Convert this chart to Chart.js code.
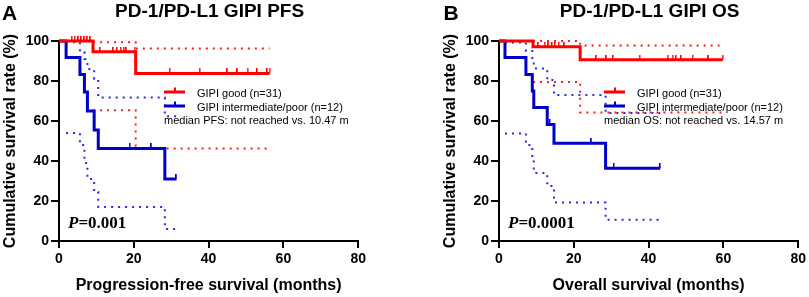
<!DOCTYPE html>
<html>
<head>
<meta charset="utf-8">
<script src="https://cdn.jsdelivr.net/npm/chart.js@4.4.0/dist/chart.umd.min.js"></script>
<style>
  html, body { margin: 0; padding: 0; background: #fff; overflow: hidden; }
  #wrap { position: relative; width: 809px; height: 297px; }
  canvas { position: absolute; top: 0; }
  #pfsChart { left: 0; }
  #osChart { left: 440px; }
</style>
</head>
<body>
<div id="wrap">
  <canvas id="pfsChart" width="369" height="297"></canvas>
  <canvas id="osChart" width="369" height="297"></canvas>
</div>
<script>
const xTicks = [0, 20, 40, 60, 80];
const yTicks = [0, 20, 40, 60, 80, 100];

// PFS - GIPI good (n=31); CI arrays line up with the event times after 0
const pfsGoodTime = [0, 9.1, 20.5, 56.3];
const pfsGoodSurv = [100, 94.6, 83.8, 83.8];
const pfsGoodUpper = [99.4, 96.3, 96.3];
const pfsGoodLower = [65.4, 46.2, 46.2];
const pfsGoodCensored = [3.4, 4.2, 5.2, 6.0, 6.8, 7.6, 8.4, 11, 14.5, 15.5, 16.5, 17.3, 18, 20.2, 29.6, 37.6, 45, 47.7, 50.4, 53, 55.7, 56.3];

// PFS - GIPI intermediate/poor (n=12)
const pfsPoorTime = [0, 1.9, 5.6, 6.8, 7.6, 9.4, 10.5, 28.3, 31.4];
const pfsPoorSurv = [100, 91.7, 83.3, 74.5, 65, 55.5, 46.3, 31, 31];
const pfsPoorUpper = [99.4, 94.5, 91, 86, 81, 71.7, 62.4, 62.4];
const pfsPoorLower = [54, 48, 39, 31, 24.5, 17, 6, 6];
const pfsPoorCensored = [18.9, 24.7, 31.4];

// OS - GIPI good (n=31)
const osGoodTime = [0, 9.1, 21.7, 59.8];
const osGoodSurv = [100, 97.1, 90.6, 90.6];
const osGoodUpper = [100, 97.8, 97.8];
const osGoodLower = [79.5, 64.2, 64.2];
const osGoodCensored = [10.5, 12.2, 13.2, 14.2, 15, 16, 17.5, 26, 28.7, 30.5, 37.6, 45.1, 46.4, 47.3, 48.7, 51.8, 56, 59.8];

// OS - GIPI intermediate/poor (n=12)
const osPoorTime = [0, 1.6, 7.2, 8.9, 9.3, 12.9, 14.7, 28.5, 43.1];
const osPoorSurv = [100, 91.7, 83.3, 75, 66.7, 58.3, 48.9, 36.4, 36.4];
const osPoorUpper = [99.3, 95, 90.5, 86.3, 80.5, 73, 64, 64];
const osPoorLower = [53.8, 48, 41, 34, 27.5, 19.3, 10.6, 10.6];
const osPoorCensored = [13.6, 24.7, 30.7, 43.1];

const RED = '#ff0000', RED_CI = '#ff1a1a';
const BLUE = '#0000c8', BLUE_CI = '#2a2ae6';
const SANS = '"Liberation Sans", Arial, sans-serif';
const SERIF = '"Liberation Serif", "Times New Roman", serif';

function pts(xs, ys) {
  return xs.map((x, i) => ({ x, y: ys[i] }));
}

function stepAt(times, surv, t) {
  let s = surv[0];
  times.forEach((tt, i) => { if (tt <= t) s = surv[i]; });
  return s;
}

// small upward tick used as the censor mark
function tickMark(color) {
  const c = document.createElement('canvas');
  c.width = 2; c.height = 10;
  const g = c.getContext('2d');
  g.fillStyle = color;
  g.fillRect(0, 0, 1.5, 5);
  return c;
}

function kmSets(time, surv, upper, lower, cens, color, ciColor) {
  const ciTime = time.slice(1);
  return [
    { data: pts(time, surv), borderColor: color, borderWidth: 3, stepped: true, pointRadius: 0, clip: false },
    { type: 'scatter', data: cens.map(t => ({ x: t, y: stepAt(time, surv, t) })), pointStyle: tickMark(color), pointRadius: 3, clip: false },
    { data: pts(ciTime, upper), borderColor: ciColor, borderWidth: 2, borderDash: [2, 5], stepped: true, pointRadius: 0, clip: false, order: 2 },
    { data: pts(ciTime, lower), borderColor: ciColor, borderWidth: 2, borderDash: [2, 5], stepped: true, pointRadius: 0, clip: false, order: 2 }
  ];
}

const decor = {
  id: 'decor',
  afterDraw(chart, args, o) {
    const ctx = chart.ctx, a = chart.chartArea;
    ctx.save();
    ctx.fillStyle = '#000';
    ctx.textBaseline = 'alphabetic';
    ctx.textAlign = 'left';
    ctx.font = 'bold 21px ' + SANS;
    ctx.fillText(o.letter, o.letterX, 20);
    ctx.font = 'bold 19px ' + SANS;
    ctx.textAlign = 'center';
    ctx.fillText(o.title, (a.left + a.right) / 2 + 1, 17);

    // legend
    ctx.textAlign = 'left';
    ctx.font = '11px ' + SANS;
    [[RED, 'GIPI good (n=31)', 92], [BLUE, 'GIPI intermediate/poor (n=12)', 106]].forEach(([c, label, y]) => {
      ctx.strokeStyle = c;
      ctx.lineWidth = 3;
      ctx.beginPath();
      ctx.moveTo(a.left + 105, y);
      ctx.lineTo(a.left + 126, y);
      ctx.stroke();
      ctx.fillStyle = c;
      ctx.fillRect(a.left + 115, y - 4.5, 2, 4.5);
      ctx.fillStyle = '#000';
      ctx.fillText(label, a.left + 138, y + 4.5);
    });
    ctx.fillText(o.median, a.left + 105, 123.5);

    // P value
    ctx.font = 'italic bold 17px ' + SERIF;
    ctx.fillText('P', a.left + 9, 228);
    const w = ctx.measureText('P').width;
    ctx.font = 'bold 17px ' + SERIF;
    ctx.fillText(o.pval, a.left + 9 + w, 228);
    ctx.restore();
  }
};

function makeChart(id, sets, xTitle, decorOpts) {
  return new Chart(document.getElementById(id), {
    type: 'line',
    data: { datasets: sets },
    plugins: [decor],
    options: {
      responsive: false,
      animation: false,
      layout: { padding: { top: 41, left: 0, right: 10, bottom: 0 } },
      plugins: {
        legend: { display: false },
        tooltip: { enabled: false },
        decor: decorOpts
      },
      scales: {
        x: {
          type: 'linear', min: 0, max: 80,
          afterFit: s => { s.height = 56; },
          afterBuildTicks: s => { s.ticks = xTicks.map(v => ({ value: v })); },
          ticks: { color: '#000', font: { family: SANS, size: 14, weight: 'bold' }, padding: 3, maxRotation: 0 },
          grid: { drawOnChartArea: false, drawTicks: true, tickLength: 7, color: '#000', lineWidth: 2 },
          border: { display: true, color: '#000', width: 2 },
          title: { display: true, text: xTitle, color: '#000', font: { family: SANS, size: 16, weight: 'bold' }, padding: { top: 0, bottom: 2 } }
        },
        y: {
          type: 'linear', min: 0, max: 100,
          afterFit: s => { s.width = 59; },
          afterBuildTicks: s => { s.ticks = yTicks.map(v => ({ value: v })); },
          ticks: { color: '#000', font: { family: SANS, size: 14, weight: 'bold' }, padding: 2 },
          grid: { drawOnChartArea: false, drawTicks: true, tickLength: 8, color: '#000', lineWidth: 2 },
          border: { display: true, color: '#000', width: 2 },
          title: { display: true, text: 'Cumulative survival rate (%)', color: '#000', font: { family: SANS, size: 16, weight: 'bold' }, padding: { top: 1, bottom: 0 } }
        }
      }
    }
  });
}

makeChart('pfsChart',
  kmSets(pfsGoodTime, pfsGoodSurv, pfsGoodUpper, pfsGoodLower, pfsGoodCensored, RED, RED_CI)
    .concat(kmSets(pfsPoorTime, pfsPoorSurv, pfsPoorUpper, pfsPoorLower, pfsPoorCensored, BLUE, BLUE_CI)),
  'Progression-free survival (months)',
  { letter: 'A', letterX: 2, title: 'PD-1/PD-L1 GIPI PFS', median: 'median PFS: not reached vs. 10.47 m', pval: '=0.001' });

makeChart('osChart',
  kmSets(osGoodTime, osGoodSurv, osGoodUpper, osGoodLower, osGoodCensored, RED, RED_CI)
    .concat(kmSets(osPoorTime, osPoorSurv, osPoorUpper, osPoorLower, osPoorCensored, BLUE, BLUE_CI)),
  'Overall survival (months)',
  { letter: 'B', letterX: 3.5, title: 'PD-1/PD-L1 GIPI OS', median: 'median OS: not reached vs. 14.57 m', pval: '=0.0001' });
</script>
</body>
</html>
